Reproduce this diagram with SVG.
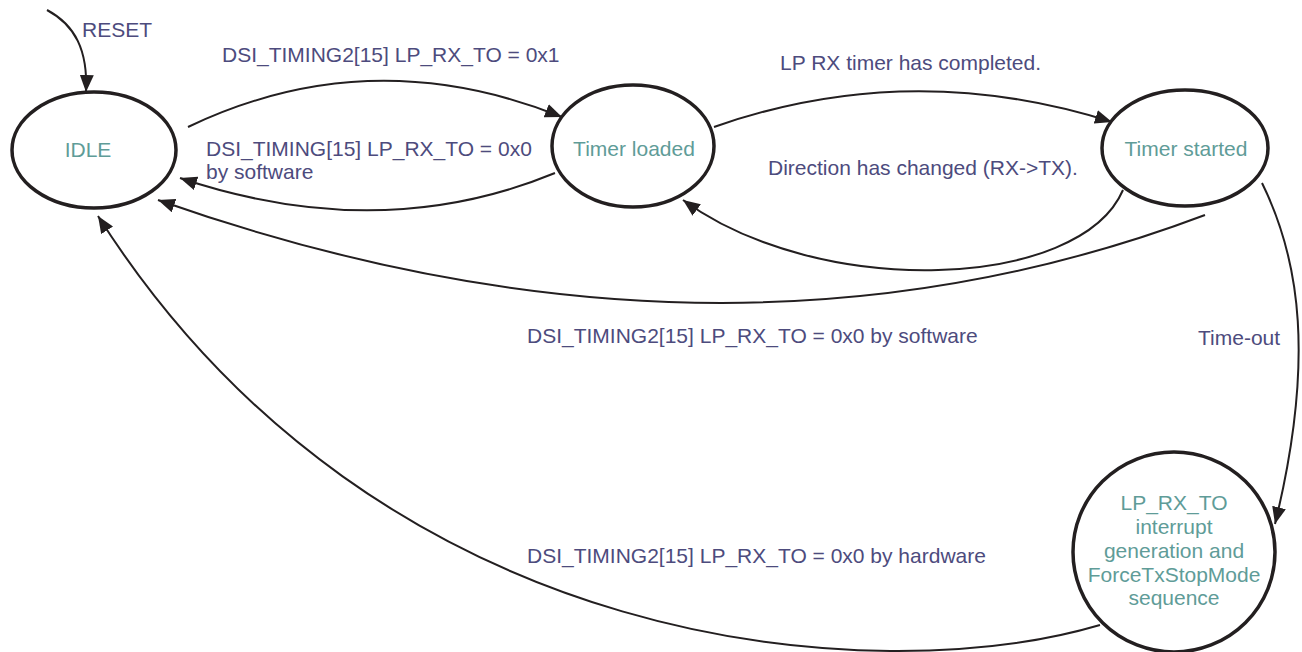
<svg xmlns="http://www.w3.org/2000/svg" width="1302" height="652" viewBox="0 0 1302 652">
<style>
.node{fill:#fff;stroke:#231f20;stroke-width:3.5}
.edge{fill:none;stroke:#231f20;stroke-width:2;marker-end:url(#arr)}
.lbl{font-family:"Liberation Sans",Arial,sans-serif;font-size:21px;fill:#4d4b7d}
.ntxt{font-family:"Liberation Sans",Arial,sans-serif;font-size:21px;fill:#5f9c98;text-anchor:middle}
</style>
<defs>
<marker id="arr" markerUnits="userSpaceOnUse" markerWidth="17" markerHeight="14" refX="17" refY="7" orient="auto">
<path d="M0,0 L17,7 L0,14 Z" fill="#231f20"/>
</marker>
</defs>
<rect width="1302" height="652" fill="#fff"/>
<g id="connectors">
<path class="edge" d="M47,10 C75,25 88,50 86,92"/>
<path class="edge" d="M188,127 Q370,40 562,117"/>
<path class="edge" d="M555,173 Q380,245 180,178"/>
<path class="edge" d="M714,127 Q910,58 1112,122"/>
<path class="edge" d="M1123,190 C1080,290 820,300 683,200"/>
<path class="edge" d="M1205,215 Q720,398 158,200"/>
<path class="edge" d="M1262,183 C1300,260 1315,360 1275,524"/>
<path class="edge" d="M1100,625 C880,690 380,660 98,216"/>
</g>
<g id="labels">
<text class="lbl" x="82" y="37">RESET</text>
<text class="lbl" x="222" y="62">DSI_TIMING2[15] LP_RX_TO = 0x1</text>
<text class="lbl" x="780" y="70">LP RX timer has completed.</text>
<text class="lbl" x="206" y="156">DSI_TIMING[15] LP_RX_TO = 0x0</text>
<text class="lbl" x="206" y="179">by software</text>
<text class="lbl" x="768" y="175">Direction has changed (RX-&gt;TX).</text>
<text class="lbl" x="527" y="343">DSI_TIMING2[15] LP_RX_TO = 0x0 by software</text>
<text class="lbl" x="1198" y="345">Time-out</text>
<text class="lbl" x="527" y="563">DSI_TIMING2[15] LP_RX_TO = 0x0 by hardware</text>
</g>
<g id="idle">
<ellipse class="node" cx="94" cy="150" rx="82" ry="58"/>
<text class="ntxt" x="88" y="157">IDLE</text>
</g>
<g id="timer-loaded">
<ellipse class="node" cx="633" cy="146" rx="81" ry="61"/>
<text class="ntxt" x="634" y="156">Timer loaded</text>
</g>
<g id="timer-started">
<ellipse class="node" cx="1185" cy="148" rx="83" ry="58"/>
<text class="ntxt" x="1186" y="156">Timer started</text>
</g>
<g id="lp-rx-to">
<ellipse class="node" cx="1174" cy="552" rx="101" ry="100"/>
<text class="ntxt" x="1174" y="510">LP_RX_TO</text>
<text class="ntxt" x="1174" y="534">interrupt</text>
<text class="ntxt" x="1174" y="558">generation and</text>
<text class="ntxt" x="1174" y="582">ForceTxStopMode</text>
<text class="ntxt" x="1174" y="605">sequence</text>
</g>
</svg>
